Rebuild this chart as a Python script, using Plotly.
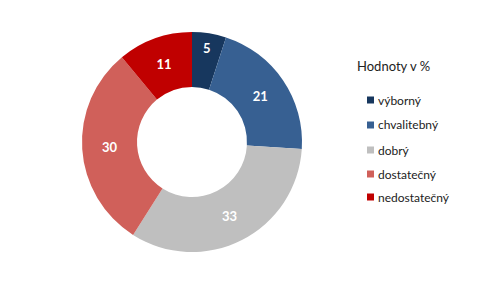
import plotly.graph_objects as go

categories = ["výborný", "chvalitebný", "dobrý", "dostatečný", "nedostatečný"]
values = [5, 21, 33, 30, 11]
colors = ["#17375E", "#376092", "#BFBFBF", "#D0605A", "#C00000"]
legend_title = "Hodnoty v %"

fig = go.Figure()
fig.add_trace(go.Pie(
    labels=categories, values=values, hole=0.5, sort=False,
    direction="clockwise", rotation=0,
    marker=dict(colors=colors, line=dict(width=0)),
    texttemplate="%{value}", textposition="inside",
    insidetextorientation="horizontal",
    textfont=dict(family="Lato, Open Sans, sans-serif", size=13, color="white", weight="bold"),
    domain=dict(x=[82/491, 302/491], y=[32/284, 252/284]),
    showlegend=False, hoverinfo="label+value",
))

# manual legend
shapes = []
annotations = [dict(text=legend_title, x=355/491, y=1-66/284, xref="paper", yref="paper",
                    xanchor="left", yanchor="middle", showarrow=False,
                    font=dict(family="Lato, Open Sans, sans-serif", size=13, color="#222"))]
ys = [100, 125, 150, 174, 197]
for cat, col, yy in zip(categories, colors, ys):
    shapes.append(dict(type="rect", xref="paper", yref="paper",
                       x0=367/491, x1=374/491, y0=1-(yy+3.5)/284, y1=1-(yy-3.5)/284,
                       fillcolor=col, line=dict(width=0)))
    annotations.append(dict(text=cat, x=376/491, y=1-yy/284, xref="paper", yref="paper",
                            xanchor="left", yanchor="middle", showarrow=False,
                            font=dict(family="Lato, Open Sans, sans-serif", size=12, color="#222")))

fig.update_layout(width=491, height=284, margin=dict(l=0, r=0, t=0, b=0),
                  paper_bgcolor="white", plot_bgcolor="white",
                  shapes=shapes, annotations=annotations)
fig.write_html("out.html")
